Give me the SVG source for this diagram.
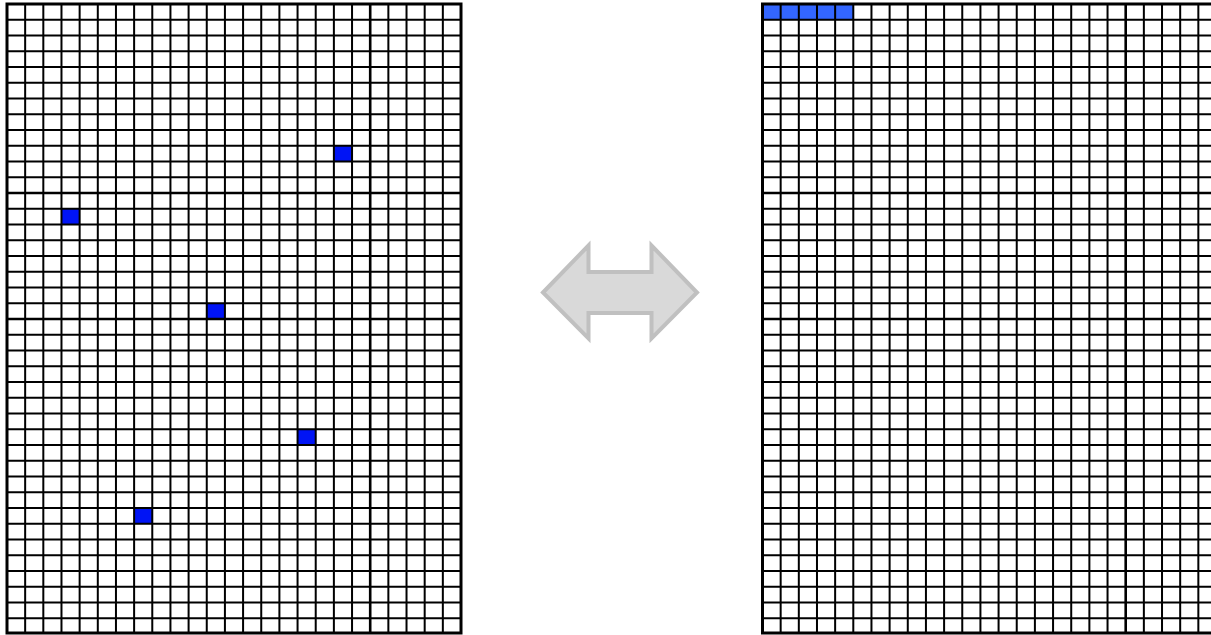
<svg xmlns="http://www.w3.org/2000/svg" xmlns:xlink="http://www.w3.org/1999/xlink" width="1211" height="635" viewBox="0 0 1211 635">
<style>
.bg{fill:#ffffff}
.cellL{fill:#0014f5}
.cellR{fill:#3366ff}
.grid{fill:none;stroke:#000000;stroke-width:2}
.thick{fill:none;stroke:#000000;stroke-width:2.6}
.border{fill:none;stroke:#000000;stroke-width:3}
.arrow{fill:#d9d9d9;stroke:#c0c0c0;stroke-width:4;stroke-linejoin:miter}
</style>
<defs>
<g id="gridlines">
<path class="grid" d="M25.16 4V634M43.32 4V634M61.48 4V634M79.64 4V634M97.8 4V634M115.96 4V634M134.12 4V634M152.28 4V634M170.44 4V634M188.6 4V634M206.76 4V634M224.92 4V634M243.08 4V634M261.24 4V634M279.4 4V634M297.56 4V634M315.72 4V634M333.88 4V634M352.04 4V634M388.36 4V634M406.52 4V634M424.68 4V634M442.84 4V634"/>
<path class="grid" d="M7 19.75H461M7 35.5H461M7 51.25H461M7 67H461M7 82.75H461M7 98.5H461M7 114.25H461M7 130H461M7 145.75H461M7 161.5H461M7 177.25H461M7 208.75H461M7 224.5H461M7 240.25H461M7 256H461M7 271.75H461M7 287.5H461M7 303.25H461M7 334.75H461M7 350.5H461M7 366.25H461M7 382H461M7 397.75H461M7 413.5H461M7 429.25H461M7 445H461M7 460.75H461M7 476.5H461M7 492.25H461M7 508H461M7 523.75H461M7 539.5H461M7 555.25H461M7 571H461M7 586.75H461M7 602.5H461M7 618.25H461"/>
<path class="thick" d="M370.2 4V634M7 193H461M7 319H461"/>
<rect class="border" x="7" y="4" width="454" height="629"/>
</g>
</defs>
<rect class="bg" x="0" y="0" width="1211" height="635"/>
<g id="left-grid">
<rect class="cellL" x="333.88" y="145.75" width="18.16" height="15.75"/>
<rect class="cellL" x="61.48" y="208.75" width="18.16" height="15.75"/>
<rect class="cellL" x="206.76" y="303.25" width="18.16" height="15.75"/>
<rect class="cellL" x="297.56" y="429.25" width="18.16" height="15.75"/>
<rect class="cellL" x="134.12" y="508" width="18.16" height="15.75"/>
<use xlink:href="#gridlines" href="#gridlines"/>
</g>
<g id="right-grid" transform="translate(755.5,0)">
<rect class="cellR" x="7" y="4" width="90.8" height="15.75"/>
<use xlink:href="#gridlines" href="#gridlines"/>
</g>
<g id="double-arrow">
<path class="arrow" d="M543 292.5L588.5 245.5V272H651.5V245.5L697 292.5L651.5 338.5V313H588.5V338.5Z"/>
</g>
</svg>
